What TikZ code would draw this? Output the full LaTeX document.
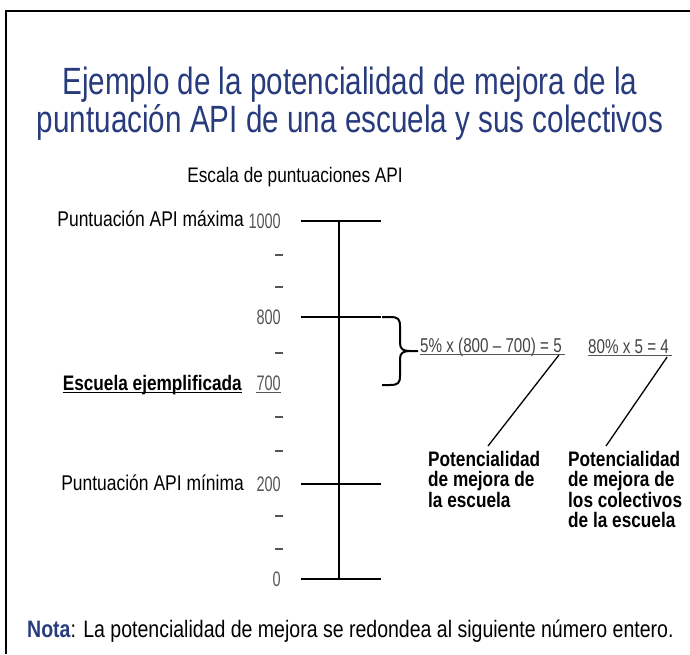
\documentclass[tikz,border=0pt]{standalone}
\usepackage{fontspec}
\setmainfont{Liberation Sans}[FakeStretch=0.82]
\newfontfamily\titlefont{Liberation Sans}[FakeStretch=0.78]
\newfontfamily\numfont{Liberation Sans}[FakeStretch=0.69]
\newfontfamily\formfont{Liberation Sans}[FakeStretch=0.76]
\usetikzlibrary{calc}
\definecolor{titleblue}{RGB}{40,60,125}
\definecolor{numgray}{RGB}{85,85,85}

\begin{document}
\begin{tikzpicture}[x=1pt, y=-1pt,
		titletext/.style={anchor=base, inner sep=0pt, text=titleblue, font=\titlefont\fontsize{38}{38}\selectfont},
		scalenum/.style={anchor=east, inner sep=0pt, text=numgray, font=\numfont\fontsize{21}{21}\selectfont},
		sidetext/.style={anchor=base east, inner sep=0pt, font=\fontsize{21.3}{21}\selectfont},
		formula/.style={anchor=base west, inner sep=0pt, text=numgray!80!black, font=\formfont\fontsize{20}{20}\selectfont},
		potbox/.style={anchor=north west, inner sep=0pt, align=left, font=\bfseries\fontsize{21}{20.5}\selectfont},
		tickline/.style={line width=2.4pt},
		minordash/.style={numgray, line width=1.6pt},
		leader/.style={line width=1.3pt}]
		\useasboundingbox (0,0) rectangle (690,654);

		% frame, cut at the right and bottom
		\draw[line width=2pt] (6,654) -- (6,11) -- (690,11);

		% title
		\node[titletext] (title) at (350,94) {Ejemplo de la potencialidad de mejora de la};
		\node[titletext] (title2) at (350,132) {puntuación API de una escuela y sus colectivos};

		\node[anchor=base, inner sep=0pt, font=\fontsize{21}{21}\selectfont] (escala) at (295,182) {Escala de puntuaciones API};

		% the scale
		\coordinate (top) at (339,221);
		\coordinate (bot) at (339,579);
		\draw[tickline] (top) -- (bot);
		\draw[tickline] (301,221) -- (381,221);
		\draw[tickline] (301,317) -- (381,317);
		\draw[tickline] (301,484) -- (381,484);
		\draw[tickline] (301,579) -- (381,579);

		\node[scalenum] (n1000) at (281,221) {1000};
		\node[scalenum] (n800) at (281,317) {800};
		\node[scalenum] (n700) at (281,383) {700};
		\node[scalenum] (n200) at (281,484) {200};
		\node[scalenum] (n0) at (281,579) {0};
		\draw[numgray, line width=0.8pt] ($(n700.south west)+(0,2)$) -- ($(n700.south east)+(0,2)$);

		\draw[minordash] (275,255) -- (283,255);
		\draw[minordash] (275,287) -- (283,287);
		\draw[minordash] (275,353) -- (283,353);
		\draw[minordash] (275,417) -- (283,417);
		\draw[minordash] (275,451) -- (283,451);
		\draw[minordash] (275,516) -- (283,516);
		\draw[minordash] (275,549) -- (283,549);

		\node[sidetext] (maxima) at (244,226) {Puntuación API máxima};
		\node[sidetext, font=\bfseries\fontsize{21}{21}\selectfont] (escuela) at (242,390) {Escuela ejemplificada};
		\draw[line width=1.2pt] ($(escuela.base west)+(0,2.5)$) -- ($(escuela.base east)+(0,2.5)$);
		\node[sidetext] (minima) at (244,490) {Puntuación API mínima};

		% brace from 800 down to 700
		\draw[line width=2pt] (382,317) -- (390,317) .. controls (398,317) and (400,319) .. (400,326)
			-- (400,343) .. controls (400,349) and (403,351) .. (410,351) -- (418,351);
		\draw[line width=2pt] (382,385) -- (390,385) .. controls (398,385) and (400,383) .. (400,376)
			-- (400,359) .. controls (400,353) and (403,351) .. (410,351);

		% formulas
		\node[formula] (f1) at (420,352) {5\% x (800 – 700) = 5};
		\node[formula] (f2) at (588,353) {80\% x 5 = 4};
		\draw[numgray, line width=0.8pt] ($(f1.base west)+(0,2)$) -- ($(f1.base east)+(3,2)$);
		\draw[numgray, line width=0.8pt] ($(f2.base west)+(0,2)$) -- ($(f2.base east)+(3,2)$);

		\node[potbox] (pot1) at (428,451) {Potencialidad\\de mejora de\\la escuela};
		\node[potbox] (pot2) at (568,451) {Potencialidad\\de mejora de\\los colectivos\\de la escuela};

		\draw[leader] ($(f1.base east)+(-3,3)$) -- ($(pot1.north west)+(60,-5)$);
		\draw[leader] ($(f2.base east)+(-2,4)$) -- ($(pot2.north west)+(38,-5)$);

		% note
		\node[anchor=base west, inner sep=0pt, font=\fontsize{23.8}{24}\selectfont] (nota) at (27,637) {\textcolor{titleblue}{\textbf{Nota}}: La potencialidad de mejora se redondea al siguiente número entero.};
	\end{tikzpicture}
\end{document}
